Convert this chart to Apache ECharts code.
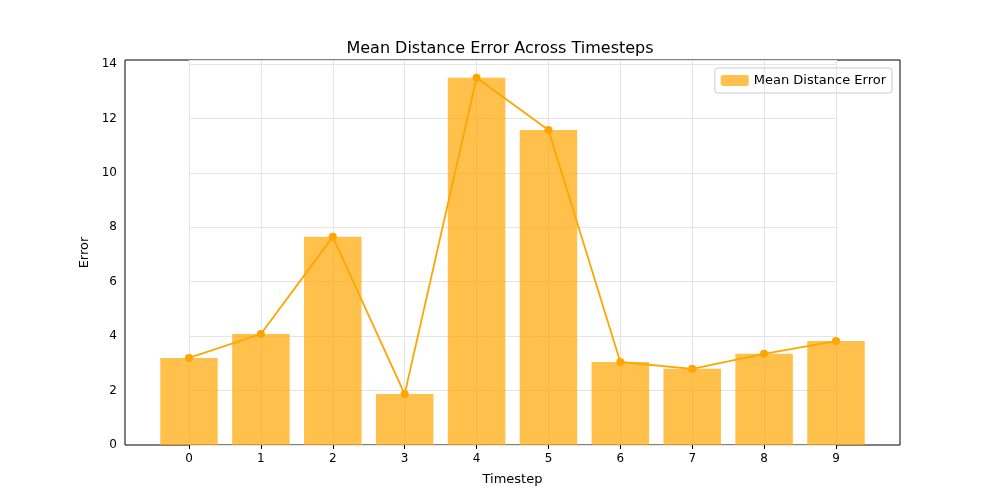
<!DOCTYPE html>
<html>
<head>
<meta charset="UTF-8">
<script src="https://cdn.jsdelivr.net/npm/echarts@6/dist/echarts.min.js"></script>
</head>
<body style="margin:0">
<div id="chart" style="width:1000px;height:500px;"></div>
<script>
var timesteps = ['0', '1', '2', '3', '4', '5', '6', '7', '8', '9'];
var meanError = [3.2, 4.08, 7.65, 1.87, 13.5, 11.58, 3.05, 2.8, 3.35, 3.82];
var yTicks = [0, 2, 4, 6, 8, 10, 12, 14];

var chart = echarts.init(document.getElementById('chart'));
var font = 'DejaVu Sans';
chart.setOption({
    animation: false,
    textStyle: {fontFamily: font},
    title: {text: 'Mean Distance Error Across Timesteps', left: 'center', top: 36,
        textStyle: {fontFamily: font, fontSize: 16, fontWeight: 'normal', color: '#000'}},
    legend: {data: ['Mean Distance Error'], right: 108, top: 68, itemWidth: 28, itemHeight: 11,
        borderColor: '#ccc', borderWidth: 1, borderRadius: 3, padding: [6, 6],
        textStyle: {fontFamily: font, fontSize: 13, color: '#000'}},
    grid: [
        {left: 125, right: 100, top: 60, bottom: 55, show: true, borderColor: '#000', borderWidth: 1, backgroundColor: 'transparent'},
        {left: 189, right: 164, top: 60, bottom: 55}
    ],
    xAxis: [
        {type: 'value', gridIndex: 0, min: 0, max: 1, show: false},
        {type: 'category', gridIndex: 1, data: timesteps, boundaryGap: false,
            name: 'Timestep', nameLocation: 'middle', nameGap: 28,
            nameTextStyle: {fontFamily: font, fontSize: 13, color: '#000'},
            axisLine: {show: false},
            axisTick: {show: true, length: 4, alignWithLabel: true, lineStyle: {color: '#000'}},
            axisLabel: {fontFamily: font, fontSize: 12, color: '#000', margin: 8},
            splitLine: {show: true, lineStyle: {color: '#e5e5e5'}}}
    ],
    yAxis: [
        {type: 'value', gridIndex: 0, min: 0, max: 14.15, show: false},
        {type: 'value', gridIndex: 1, min: 0, max: 14.15, interval: 2,
            name: 'Error', nameLocation: 'middle', nameGap: 36,
            nameTextStyle: {fontFamily: font, fontSize: 13, color: '#000'},
            axisLine: {show: false},
            axisTick: {show: false},
            axisLabel: {fontFamily: font, fontSize: 12, color: '#000', margin: 72,
                formatter: function (v) { return yTicks.indexOf(v) >= 0 ? String(v) : ''; }},
            splitLine: {show: true, lineStyle: {color: '#e5e5e5'}}}
    ],
    series: [
        {name: 'Mean Distance Error', type: 'bar', xAxisIndex: 1, yAxisIndex: 1,
            data: meanError, barWidth: 57.5, clip: false,
            itemStyle: {color: 'rgba(255,165,0,0.7)'}},
        {name: 'line', type: 'line', xAxisIndex: 1, yAxisIndex: 1, data: meanError,
            symbol: 'circle', symbolSize: 8, lineStyle: {color: '#FFA500', width: 1.8},
            itemStyle: {color: '#FFA500'}}
    ]
});
</script>
</body>
</html>
